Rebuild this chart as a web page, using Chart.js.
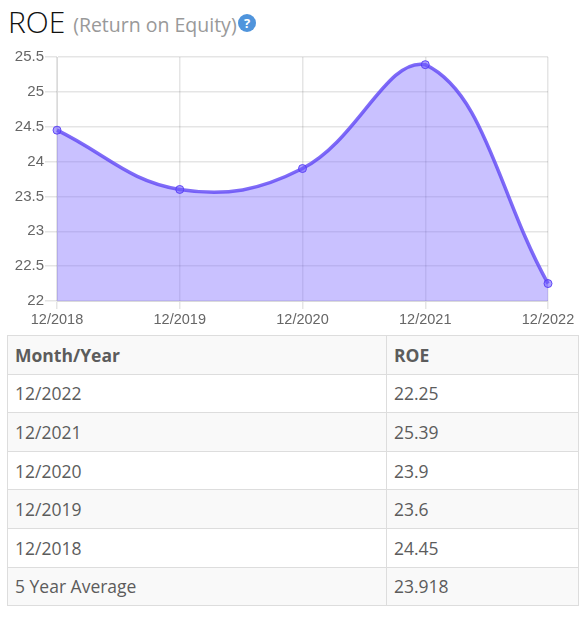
<!DOCTYPE html>
<html>
<head>
<meta charset="utf-8">
<script src="https://cdn.jsdelivr.net/npm/chart.js@4"></script>
<style>
  body { margin: 0; width: 582px; height: 622px; position: relative; background: #fff; font-family: "Open Sans", sans-serif; color: #5c5c5c; overflow: hidden; }
  h2 { position: absolute; left: 8px; top: 1px; margin: 0; font-size: 30px; line-height: 42px; font-weight: 300; color: #111; white-space: nowrap; }
  h2 small { font-size: 19.5px; font-weight: 400; color: #999; margin-left: 0; position: relative; top: -1px; }
  .help { position: absolute; left: 238px; top: 14px; width: 18px; height: 18px; border-radius: 50%; background: #4f94dc; color: #fff; font-size: 13px; font-weight: 700; line-height: 18px; text-align: center; }
  #wrap { position: absolute; left: 0; top: 45px; width: 582px; height: 285px; }
  table { position: absolute; left: 7px; top: 335px; width: 572px; border-collapse: collapse; table-layout: fixed; font-size: 17.5px; }
  th, td { border: 1px solid #ddd; padding: 0 7px; height: 38.6px; text-align: left; box-sizing: border-box; }
  th { font-weight: 700; }
  tr.alt { background: #f9f9f9; }
</style>
</head>
<body>
<h2>ROE <small>(Return on Equity)</small></h2>
<div class="help">?</div>
<div id="wrap"><canvas id="chart" width="582" height="285"></canvas></div>
<table id="tbl"><colgroup><col style="width:379px"><col></colgroup><thead></thead><tbody></tbody></table>
<script>
const months = ['12/2018', '12/2019', '12/2020', '12/2021', '12/2022'];
const roe = [24.45, 23.6, 23.9, 25.39, 22.25];
const yTicks = [22, 22.5, 23, 23.5, 24, 24.5, 25, 25.5];
const tableHead = ['Month/Year', 'ROE'];
const tableMonths = ['12/2022', '12/2021', '12/2020', '12/2019', '12/2018', '5 Year Average'];
const tableValues = ['22.25', '25.39', '23.9', '23.6', '24.45', '23.918'];

const thead = document.querySelector('#tbl thead');
const tbody = document.querySelector('#tbl tbody');
thead.innerHTML = '<tr class="alt">' + tableHead.map(h => '<th>' + h + '</th>').join('') + '</tr>';
tableMonths.forEach((m, i) => {
    const cls = i % 2 === 1 ? ' class="alt"' : '';
    tbody.innerHTML += '<tr' + cls + '><td>' + m + '</td><td>' + tableValues[i] + '</td></tr>';
});

const fontFamily = '"Liberation Sans", Arial, sans-serif';
new Chart(document.getElementById('chart').getContext('2d'), {
    type: 'line',
    data: {
        labels: months,
        datasets: [{
            label: 'ROE',
            data: roe,
            tension: 0.4,
            fill: true,
            borderColor: 'rgba(95, 70, 245, 0.8)',
            borderWidth: 3.5,
            backgroundColor: 'rgba(120, 100, 255, 0.4)',
            pointRadius: 4,
            pointBorderWidth: 1,
            pointBorderColor: 'rgba(85, 60, 245, 0.9)',
            pointBackgroundColor: 'rgba(110, 90, 255, 0.55)'
        }]
    },
    options: {
        responsive: false,
        animation: false,
        layout: { padding: { left: 0, right: 34, top: 12, bottom: 0 } },
        plugins: { legend: { display: false }, tooltip: { enabled: false } },
        scales: {
            x: {
                offset: false,
                afterFit: s => { s.height = 29; },
                grid: { color: 'rgba(0,0,0,0.1)', lineWidth: 1.5, tickLength: 8 },
                border: { color: 'rgba(0,0,0,0.1)' },
                ticks: { color: '#666', font: { family: fontFamily, size: 14.5 }, maxRotation: 0, padding: 2, autoSkip: false }
            },
            y: {
                min: 22,
                max: 25.5,
                afterFit: s => { s.width = 57; },
                afterBuildTicks: s => { s.ticks = yTicks.map(v => ({ value: v })); },
                grid: { color: 'rgba(0,0,0,0.1)', lineWidth: 1.5, tickLength: 12 },
                border: { color: 'rgba(0,0,0,0.1)' },
                ticks: { color: '#666', font: { family: fontFamily, size: 15 }, padding: 1, callback: v => String(v) }
            }
        }
    }
});
</script>
</body>
</html>
